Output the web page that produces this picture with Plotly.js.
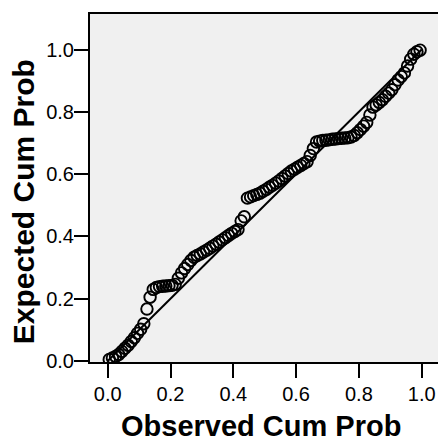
<!DOCTYPE html>
<html>
<head>
<meta charset="utf-8">
<script src="https://cdn.plot.ly/plotly-3.0.1.min.js"></script>
<style>html,body{margin:0;padding:0;background:#fff;}#chart{width:438px;height:441px;}</style>
</head>
<body>
<div id="chart"></div>
<script>
// Observed cumulative probabilities (x)
const observedCumProb = [
0.005,0.015,0.025,0.035,0.045,0.055,0.065,0.075,0.085,0.095,
0.105,0.115,0.125,0.135,0.145,0.155,0.165,0.175,0.185,0.195,
0.205,0.215,0.225,0.235,0.245,0.255,0.265,0.275,0.285,0.295,
0.305,0.315,0.325,0.335,0.345,0.355,0.365,0.375,0.385,0.395,
0.405,0.415,0.425,0.435,0.445,0.455,0.465,0.475,0.485,0.495,
0.505,0.515,0.525,0.535,0.545,0.555,0.565,0.575,0.585,0.595,
0.605,0.615,0.625,0.635,0.645,0.655,0.665,0.675,0.685,0.695,
0.705,0.715,0.725,0.735,0.745,0.755,0.765,0.775,0.785,0.795,
0.805,0.815,0.825,0.835,0.845,0.855,0.865,0.875,0.885,0.895,
0.905,0.915,0.925,0.935,0.945,0.955,0.965,0.975,0.985,0.995
];
// Expected cumulative probabilities (y)
const expectedCumProb = [
0.005,0.010,0.015,0.021,0.031,0.041,0.051,0.063,0.075,0.089,
0.102,0.120,0.167,0.205,0.230,0.236,0.239,0.240,0.241,0.242,
0.243,0.246,0.266,0.283,0.297,0.310,0.323,0.333,0.339,0.344,
0.350,0.356,0.362,0.369,0.375,0.382,0.389,0.396,0.403,0.410,
0.416,0.422,0.450,0.463,0.523,0.527,0.531,0.535,0.539,0.545,
0.551,0.558,0.564,0.571,0.578,0.586,0.594,0.602,0.610,0.616,
0.622,0.628,0.634,0.640,0.660,0.682,0.703,0.706,0.708,0.709,
0.710,0.712,0.713,0.714,0.715,0.716,0.717,0.719,0.724,0.733,
0.743,0.754,0.766,0.790,0.815,0.822,0.830,0.839,0.850,0.860,
0.871,0.887,0.902,0.913,0.925,0.947,0.969,0.985,0.993,0.998
];
// Reference line endpoints
const refLineX = [0, 1];
const refLineY = [0, 1];
const tickValues = [0, 0.2, 0.4, 0.6, 0.8, 1.0];
const tickLabels = ["0.0", "0.2", "0.4", "0.6", "0.8", "1.0"];
const xTitle = "Observed Cum Prob";
const yTitle = "Expected Cum Prob";

const FONT = "Liberation Sans, Arial, Helvetica, sans-serif";

const traces = [
  {
    x: refLineX, y: refLineY, type: "scatter", mode: "lines",
    line: {color: "#000", width: 2}, hoverinfo: "skip", showlegend: false
  },
  {
    x: observedCumProb, y: expectedCumProb, type: "scatter", mode: "markers",
    marker: {symbol: "circle-open", size: 11.5, color: "#000", line: {color: "#000", width: 1.9}},
    showlegend: false
  }
];

const axisCommon = {
  tickvals: tickValues, ticktext: tickLabels,
  ticks: "outside", ticklen: 14, tickwidth: 2, tickcolor: "#000",
  showline: true, linecolor: "#000", linewidth: 2,
  showgrid: false, zeroline: false,
  tickfont: {family: FONT, size: 20, color: "#000"}
};

const layout = {
  width: 438, height: 441,
  margin: {l: 90, r: 0, t: 14, b: 79, pad: 0},
  paper_bgcolor: "#fff", plot_bgcolor: "#f0f0f0",
  showlegend: false,
  xaxis: Object.assign({}, axisCommon, {range: [-0.0564, 1.052], mirror: true, ticklabelstandoff: -1}),
  yaxis: Object.assign({}, axisCommon, {range: [-0.003, 1.114], ticklabelstandoff: -4}),
  annotations: [
    {text: "<b>" + xTitle + "</b>", xref: "x", yref: "paper", x: 0.488, y: -0.185,
     xanchor: "center", yanchor: "middle", showarrow: false,
     font: {family: FONT, size: 29, color: "#000"}},
    {text: "<b>" + yTitle + "</b>", xref: "paper", yref: "y", x: -0.1925, y: 0.51,
     xanchor: "center", yanchor: "middle", showarrow: false, textangle: -90,
     font: {family: FONT, size: 30, color: "#000"}}
  ]
};

Plotly.newPlot("chart", traces, layout, {displayModeBar: false, staticPlot: true});
</script>
</body>
</html>
